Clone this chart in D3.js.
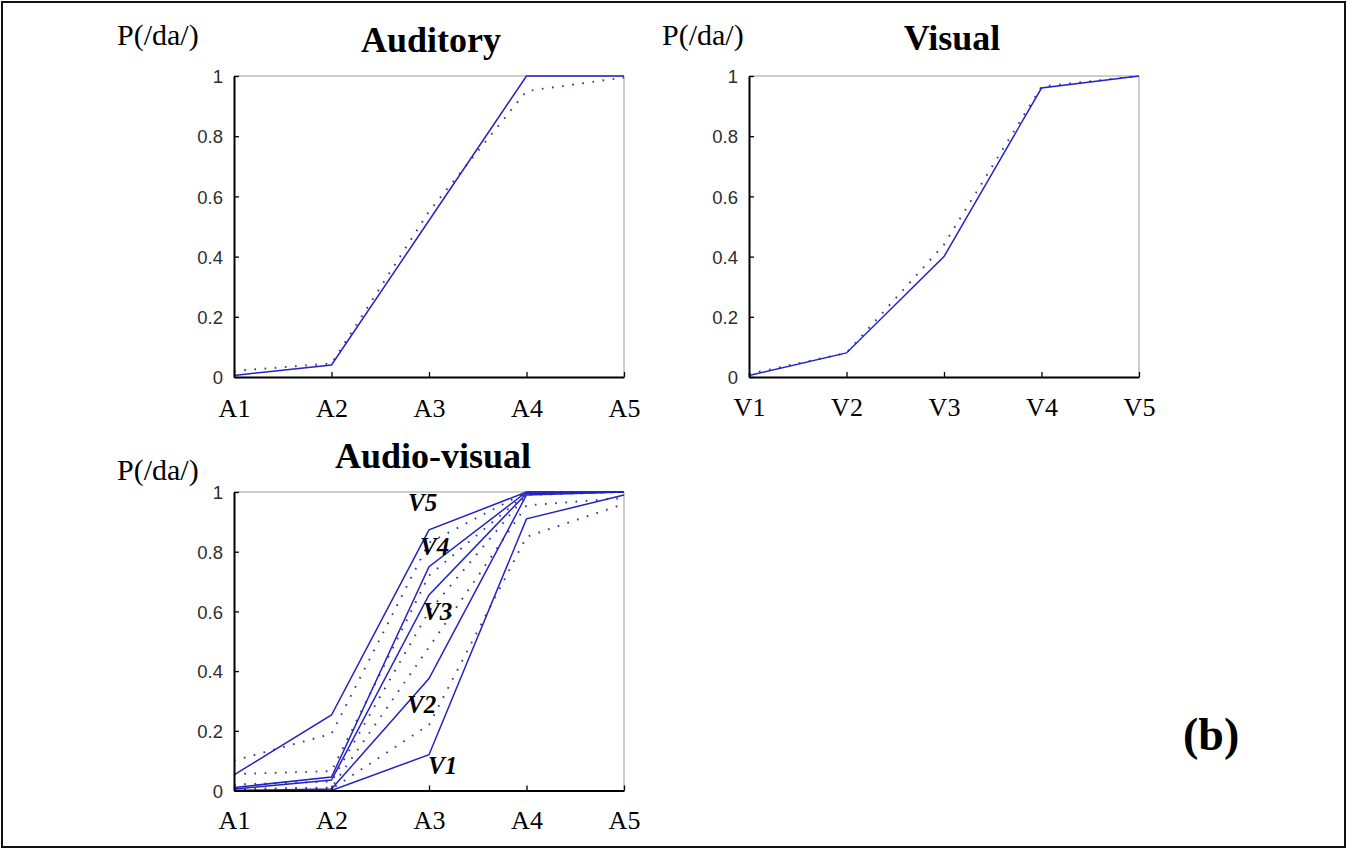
<!DOCTYPE html>
<html>
<head>
<meta charset="utf-8">
<script src="https://cdn.jsdelivr.net/npm/d3@7"></script>
<style>
  body { margin: 0; background: #fff; }
  svg { display: block; }
</style>
</head>
<body>
<svg id="fig" width="1347" height="849"></svg>
<script>
// ---- data ----
const auditoryLevels = ["A1", "A2", "A3", "A4", "A5"];
const visualLevels = ["V1", "V2", "V3", "V4", "V5"];
const yTickValues = [0, 0.2, 0.4, 0.6, 0.8, 1];
const yTickLabels = ["0", "0.2", "0.4", "0.6", "0.8", "1"];

// unimodal identification: observed (solid) and model prediction (dotted)
const auditoryObserved  = [0.005, 0.04, 0.52, 1.0, 1.0];
const auditoryPredicted = [0.02, 0.045, 0.55, 0.95, 0.995];
const visualObserved    = [0.005, 0.08, 0.40, 0.96, 1.0];
const visualPredicted   = [0.01, 0.08, 0.44, 0.965, 1.0];

// bimodal identification, one curve per visual level, over A1..A5
const avCurveNames = ["V1", "V2", "V3", "V4", "V5"];
const avObservedV1 = [0.0, 0.0, 0.12, 0.91, 0.99];
const avObservedV2 = [0.0, 0.005, 0.375, 0.99, 1.0];
const avObservedV3 = [0.005, 0.035, 0.655, 0.995, 1.0];
const avObservedV4 = [0.01, 0.045, 0.75, 1.0, 1.0];
const avObservedV5 = [0.052, 0.253, 0.873, 1.0, 1.0];
const avPredictedV1 = [0.002, 0.005, 0.22, 0.85, 0.96];
const avPredictedV2 = [0.005, 0.01, 0.48, 0.955, 0.98];
const avPredictedV3 = [0.02, 0.03, 0.60, 0.99, 1.0];
const avPredictedV4 = [0.055, 0.065, 0.72, 0.995, 1.0];
const avPredictedV5 = [0.10, 0.19, 0.83, 1.0, 1.0];

const avObserved = [avObservedV1, avObservedV2, avObservedV3, avObservedV4, avObservedV5];
const avPredicted = [avPredictedV1, avPredictedV2, avPredictedV3, avPredictedV4, avPredictedV5];

// ---- styling ----
const SOLID = "#2323c0";
const DOTS = "#3838a8";
const serif = "'Liberation Serif', 'Times New Roman', serif";
const sans = "'Liberation Sans', Arial, sans-serif";

const svg = d3.select("#fig");

svg.append("rect")
  .attr("x", 2).attr("y", 2)
  .attr("width", 1343).attr("height", 845)
  .attr("fill", "none").attr("stroke", "#111").attr("stroke-width", 2);

function drawPanel(p) {
  const x = d3.scalePoint().domain(p.levels).range([p.x0, p.x1]);
  const y = d3.scaleLinear().domain([0, 1]).range([p.yBot, p.yTop]);
  const g = svg.append("g");

  // top and right edges of the box
  g.append("path")
    .attr("d", `M${p.x0},${p.yTop}H${p.x1}V${p.yBot}`)
    .attr("fill", "none").attr("stroke", "#9a9a9a").attr("stroke-width", 1);

  // model predictions (dotted)
  const line = d3.line().x((d, i) => x(p.levels[i])).y(d => y(d));
  p.predicted.forEach(series => {
    g.append("path")
      .attr("d", line(series))
      .attr("fill", "none")
      .attr("stroke", DOTS)
      .attr("stroke-width", 1.9)
      .attr("stroke-dasharray", "1.7 8.5");
  });

  // observed (solid)
  p.observed.forEach(series => {
    g.append("path")
      .attr("d", line(series))
      .attr("fill", "none")
      .attr("stroke", SOLID)
      .attr("stroke-width", 1.5);
  });

  // x axis
  const gx = g.append("g")
    .attr("transform", `translate(0,${p.yBot})`)
    .call(d3.axisBottom(x).tickSizeInner(-5).tickSizeOuter(0).tickPadding(0));
  gx.select(".domain").attr("stroke", "#000").attr("stroke-width", 2);
  gx.selectAll(".tick line").attr("stroke", "#000").attr("stroke-width", 1.3);
  gx.selectAll(".tick text")
    .attr("y", p.xLabelDrop).attr("dy", null)
    .attr("fill", "#000")
    .style("font-family", serif).style("font-size", "26px");

  // y axis
  const gy = g.append("g")
    .attr("transform", `translate(${p.x0},0)`)
    .call(d3.axisLeft(y).tickValues(yTickValues)
      .tickFormat((d, i) => yTickLabels[i])
      .tickSizeInner(-5).tickSizeOuter(0).tickPadding(11));
  gy.select(".domain").attr("stroke", "#000").attr("stroke-width", 2);
  gy.selectAll(".tick line").attr("stroke", "#000").attr("stroke-width", 1.3);
  gy.selectAll(".tick text")
    .attr("fill", "#2e2e2e").attr("dy", "0.36em")
    .style("font-family", sans).style("font-size", "18.5px");

  // y label and title
  g.append("text")
    .attr("x", p.yLabelX).attr("y", p.yLabelY)
    .style("font-family", serif).style("font-size", "30px")
    .text("P(/da/)");
  g.append("text")
    .attr("x", p.titleX).attr("y", p.titleY)
    .attr("text-anchor", "middle")
    .style("font-family", serif).style("font-size", "36px").style("font-weight", "bold")
    .text(p.title);

  return { x, y, g };
}

drawPanel({
  title: "Auditory", levels: auditoryLevels,
  observed: [auditoryObserved], predicted: [auditoryPredicted],
  x0: 234, x1: 624, yTop: 76, yBot: 377, xLabelDrop: 40,
  yLabelX: 117, yLabelY: 45, titleX: 431, titleY: 52
});

drawPanel({
  title: "Visual", levels: visualLevels,
  observed: [visualObserved], predicted: [visualPredicted],
  x0: 749, x1: 1139, yTop: 76, yBot: 377, xLabelDrop: 39,
  yLabelX: 662, yLabelY: 45, titleX: 952, titleY: 50
});

const av = drawPanel({
  title: "Audio-visual", levels: auditoryLevels,
  observed: avObserved, predicted: avPredicted,
  x0: 234, x1: 624, yTop: 492, yBot: 790.5, xLabelDrop: 38,
  yLabelX: 117, yLabelY: 480, titleX: 433, titleY: 468
});

// curve names placed beside each observed curve at A3
const nameOffsets = [[-1, 19], [-22, 34], [-6, 25], [-9, -12], [-21, -19]];
avCurveNames.forEach((name, i) => {
  av.g.append("text")
    .attr("x", av.x("A3") + nameOffsets[i][0])
    .attr("y", av.y(avObserved[i][2]) + nameOffsets[i][1])
    .style("font-family", serif).style("font-size", "25px")
    .style("font-weight", "bold").style("font-style", "italic")
    .text(name);
});

svg.append("text")
  .attr("x", 1183).attr("y", 750)
  .style("font-family", serif).style("font-size", "46px").style("font-weight", "bold")
  .text("(b)");
</script>
</body>
</html>
